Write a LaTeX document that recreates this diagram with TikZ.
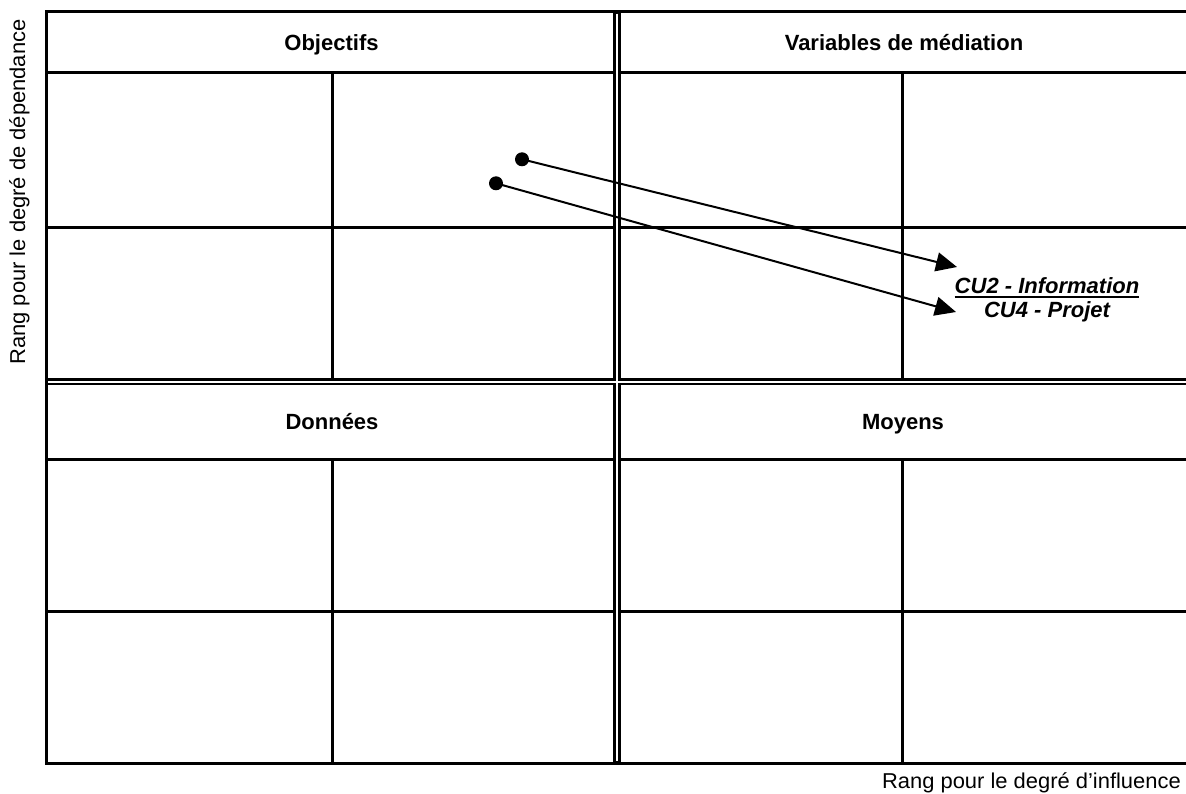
\documentclass[tikz,border=0pt]{standalone}
\usepackage{fontspec}
\setmainfont{Liberation Sans}
\newfontfamily\regfont[FakeStretch=1.02]{Liberation Sans}
\usetikzlibrary{arrows.meta}
\begin{document}
\begin{tikzpicture}[x=1pt,y=-1pt,
  grid/.style={line width=3pt,line cap=rect},
  dblout/.style={line width=7.5pt},
  dblin/.style={white,line width=2pt},
  hdr/.style={font=\fontsize{22}{24}\selectfont\bfseries,inner sep=0pt,anchor=base},
  cu/.style={font=\fontsize{22}{24}\selectfont\bfseries\itshape,inner sep=0pt,anchor=base},
  axis/.style={font=\regfont\fontsize{21.5}{24}\selectfont,inner sep=0pt},
  dot/.style={circle,fill=black,inner sep=0pt,minimum size=14pt},
  arrowline/.style={line width=2pt,-{Triangle[length=21pt,width=19pt]}}]
\useasboundingbox (0,0) rectangle (1186,794);
\fill[white] (0,0) rectangle (1186,794);
\clip (0,0) rectangle (1186,794);
% horizontal grid lines
\draw[grid] (46.5,12) -- (1200,12);
\draw[grid] (46.5,72.3) -- (1200,72.3);
\draw[grid] (46.5,227.3) -- (1200,227.3);
\draw[grid] (46.5,459) -- (1200,459);
\draw[grid] (46.5,611) -- (1200,611);
\draw[grid] (46.5,763) -- (1200,763);
% left border
\draw[grid] (46.5,12) -- (46.5,763);
% column lines
\draw[grid] (332,72.3) -- (332,381);
\draw[grid] (902,72.3) -- (902,381);
\draw[grid] (332,459) -- (332,763);
\draw[grid] (902,459) -- (902,763);
% double lines
\draw[dblout] (617,12) -- (617,763);
\draw[dblout] (46.5,381.5) -- (1200,381.5);
\draw[dblin] (617,13.6) -- (617,761.4);
\draw[dblin] (48.1,381.5) -- (1200,381.5);
% headers
\node[hdr] (obj) at (331.5,50.5) {Objectifs};
\node[hdr] (var) at (904,50.5) {Variables de médiation};
\node[hdr] (don) at (332,429.5) {Données};
\node[hdr] (moy) at (903,429.5) {Moyens};
% labels
\node[cu] (cu2) at (1047,294) {CU2 - Information};
\node[cu] (cu4) at (1047,317) {CU4 - Projet};
\draw[line width=1.6pt] ([yshift=-3pt]cu2.base west) -- ([yshift=-3pt]cu2.base east);
% arrows
\node[dot] (d1) at (522,159.3) {};
\node[dot] (d2) at (496,183.3) {};
\coordinate (t1) at (957,267);
\coordinate (t2) at (956,312);
\draw[arrowline] (d1.center) -- (t1);
\draw[arrowline] (d2.center) -- (t2);
% axis labels
\node[axis,anchor=base east] (xlab) at (1181,788) {Rang pour le degré d’influence};
\node[axis,anchor=base,rotate=90] (ylab) at (25,192) {Rang pour le degré de dépendance};
\end{tikzpicture}
\end{document}
